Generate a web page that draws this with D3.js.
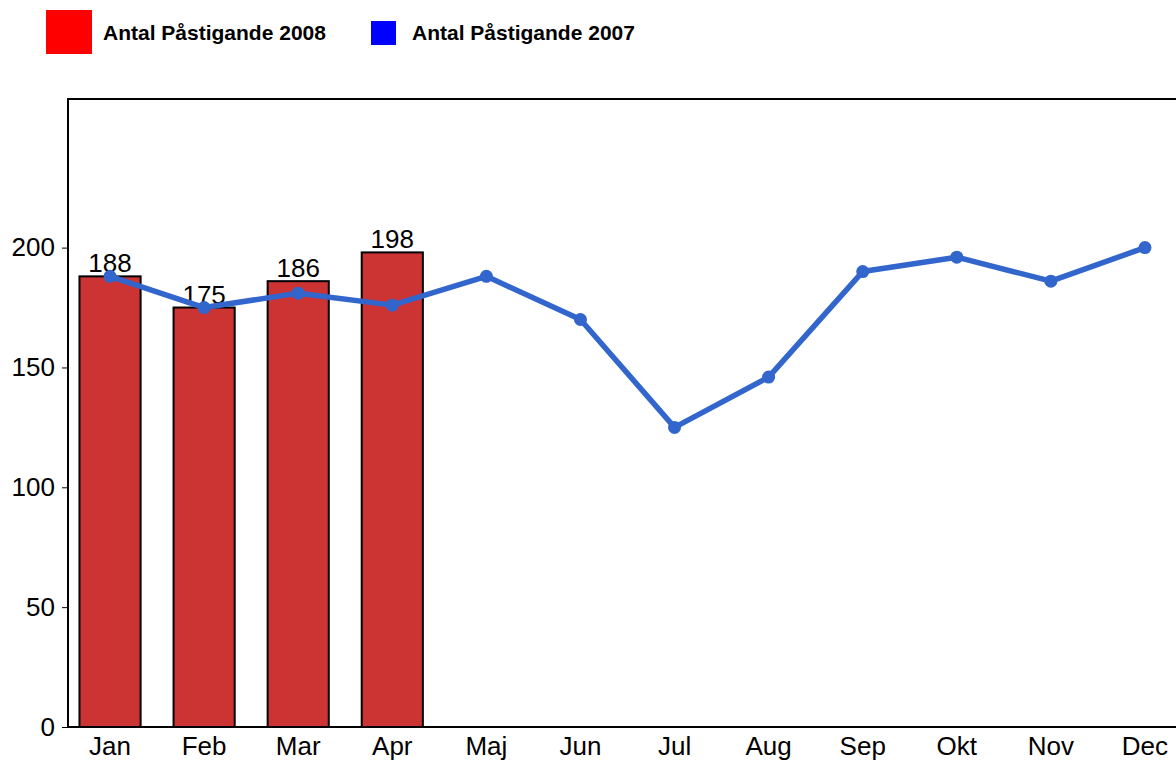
<!DOCTYPE html>
<html>
<head>
<meta charset="utf-8">
<script src="https://cdn.jsdelivr.net/npm/d3@7"></script>
<style>
  body { margin: 0; background: #fff; }
  text { font-family: "Liberation Sans", Arial, sans-serif; }
</style>
</head>
<body>
<figure id="chart" style="margin:0"></figure>
<script>
// data
var months = ["Jan", "Feb", "Mar", "Apr", "Maj", "Jun", "Jul", "Aug", "Sep", "Okt", "Nov", "Dec"];
var bars2008 = [188, 175, 186, 198];
var line2007 = [188, 175, 181, 176, 188, 170, 125, 146, 190, 196, 186, 200];
var yTicks = [0, 50, 100, 150, 200];
var seriesNames = ["Antal Påstigande 2008", "Antal Påstigande 2007"];

var width = 1176, height = 762;

var svg = d3.select("figure#chart")
  .append("svg")
  .attr("width", width)
  .attr("height", height);

// scales
var x = d3.scaleBand()
  .domain(months)
  .range([63, 1192])
  .paddingInner(0.35)
  .paddingOuter(0.175);

var y = d3.scaleLinear()
  .domain([0, 262])
  .range([727, 99]);

// frame (top + left), right side runs off the page
svg.append("path")
  .attr("d", "M68,727V99H1176")
  .attr("fill", "none")
  .attr("stroke", "#000")
  .attr("stroke-width", 2);

// y axis
svg.append("g")
  .attr("transform", "translate(68,0)")
  .call(d3.axisLeft(y).tickValues(yTicks).tickSize(6).tickPadding(7))
  .call(g => g.select(".domain").remove())
  .call(g => g.selectAll("text").attr("font-size", 26).attr("fill", "#000"))
  .call(g => g.selectAll("line").attr("stroke", "#000"));

// bars 2008
var barData = bars2008.map(function(v, i) { return {m: months[i], v: v}; });

svg.selectAll(".bar")
  .data(barData)
  .enter()
  .append("rect")
  .attr("class", "bar")
  .attr("x", function(d) { return x(d.m); })
  .attr("y", function(d) { return y(d.v); })
  .attr("width", x.bandwidth())
  .attr("height", function(d) { return y(0) - y(d.v); })
  .attr("fill", "#cc3333")
  .attr("stroke", "#000")
  .attr("stroke-width", 2);

svg.selectAll(".barlabel")
  .data(barData)
  .enter()
  .append("text")
  .attr("x", function(d) { return x(d.m) + x.bandwidth() / 2; })
  .attr("y", function(d) { return y(d.v) - 4; })
  .attr("text-anchor", "middle")
  .attr("font-size", 26)
  .text(function(d) { return d.v; });

// x axis
svg.append("g")
  .attr("transform", "translate(0,727)")
  .call(d3.axisBottom(x).tickSize(0).tickPadding(10))
  .call(g => g.select(".domain").remove())
  .call(g => g.selectAll("text").attr("font-size", 26).attr("fill", "#000"));

svg.append("line")
  .attr("x1", 68).attr("x2", 1176)
  .attr("y1", 727).attr("y2", 727)
  .attr("stroke", "#000")
  .attr("stroke-width", 2);

// line 2007
var lineData = line2007.map(function(v, i) { return {m: months[i], v: v}; });
var cx = function(d) { return x(d.m) + x.bandwidth() / 2; };

svg.append("path")
  .datum(lineData)
  .attr("fill", "none")
  .attr("stroke", "#3366cc")
  .attr("stroke-width", 5.5)
  .attr("stroke-linejoin", "round")
  .attr("d", d3.line().x(cx).y(function(d) { return y(d.v); }));

svg.selectAll(".dot")
  .data(lineData)
  .enter()
  .append("circle")
  .attr("cx", cx)
  .attr("cy", function(d) { return y(d.v); })
  .attr("r", 6.5)
  .attr("fill", "#3366cc");

// legend
var legend = [
  {name: seriesNames[0], color: "#ff0000", x: 46, y: 10, w: 46, h: 44, tx: 103},
  {name: seriesNames[1], color: "#0000ff", x: 371, y: 21, w: 25, h: 24, tx: 412}
];
var lg = svg.selectAll(".legend")
  .data(legend)
  .enter()
  .append("g");
lg.append("rect")
  .attr("x", function(d) { return d.x; })
  .attr("y", function(d) { return d.y; })
  .attr("width", function(d) { return d.w; })
  .attr("height", function(d) { return d.h; })
  .attr("fill", function(d) { return d.color; });
lg.append("text")
  .attr("x", function(d) { return d.tx; })
  .attr("y", 40)
  .attr("font-size", 21)
  .attr("font-weight", "bold")
  .text(function(d) { return d.name; });
</script>
</body>
</html>
